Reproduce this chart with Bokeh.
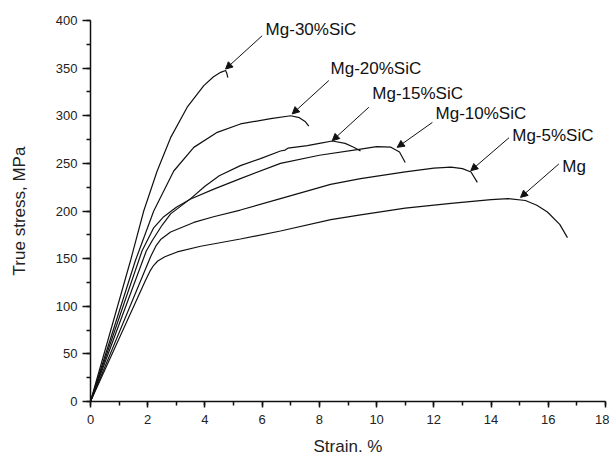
from bokeh.plotting import figure
from bokeh.models import Range1d, SingleIntervalTicker, Arrow, NormalHead, ColumnDataSource
from bokeh.core.properties import value
from bokeh.embed import file_html
from bokeh.resources import INLINE

FONT = "Liberation Sans"
INK = "#111111"

# ---- data (strain %, true stress MPa) ----
mg_x = [0, 1.92, 2.1, 2.21, 2.35, 2.6, 3.03, 3.85, 5.24, 6.64, 8.4, 9.44, 11.0, 12.6, 14.0, 14.6, 15.2, 15.6, 15.97, 16.4, 16.67]
mg_y = [0, 127, 138, 143, 147.5, 152, 157, 163, 170.6, 179, 191, 196, 203, 208, 212, 213, 211, 206, 199, 186, 172]

mg5_x = [0, 2.1, 2.3, 2.45, 2.8, 3.61, 4.3, 5.24, 6.64, 8.39, 9.44, 11.0, 12.0, 12.6, 13.0, 13.3, 13.52]
mg5_y = [0, 152, 164, 170, 178, 188, 194, 201, 213, 228, 234, 241, 245, 246, 244.5, 241, 230]

mg10_x = [0, 1.8, 2.2, 2.56, 3.0, 3.5, 4.31, 5.24, 6.64, 8.0, 9.44, 10.0, 10.5, 10.8, 11.0]
mg10_y = [0, 158, 182, 194, 204, 212.6, 223, 234, 250, 258.5, 265, 267.5, 267, 262, 251]

mg15_x = [0, 1.95, 2.16, 2.5, 2.8, 3.5, 4.0, 4.5, 5.24, 5.94, 6.64, 6.8, 6.9, 7.58, 8.0, 8.45, 8.9, 9.2, 9.44]
mg15_y = [0, 158, 169, 185, 197, 213, 226, 237, 247.6, 255, 263, 264, 266, 268.6, 271, 273.5, 271, 267, 263]

mg20_x = [0, 1.57, 2.21, 2.91, 3.61, 4.43, 5.24, 6.3, 7.0, 7.3, 7.5, 7.63]
mg20_y = [0, 148, 200, 242, 266.8, 282.6, 291.4, 297, 300, 298, 294, 289]

mg30_x = [0, 1.4, 1.86, 2.33, 2.8, 3.38, 3.96, 4.3, 4.55, 4.72, 4.76, 4.8]
mg30_y = [0, 148, 200, 242, 277, 309, 331.6, 341, 345.6, 347.5, 345, 340]

series = [(mg_x, mg_y), (mg5_x, mg5_y), (mg10_x, mg10_y),
          (mg15_x, mg15_y), (mg20_x, mg20_y), (mg30_x, mg30_y)]

# ---- annotation labels and arrows ----
label_text = ["Mg-30%SiC", "Mg-20%SiC", "Mg-15%SiC", "Mg-10%SiC", "Mg-5%SiC", "Mg"]
label_x = [6.12, 8.39, 9.85, 12.06, 14.74, 16.49]
label_y = [391, 349.5, 323, 302, 279, 246.5]
arrow_x0 = [6.0, 8.33, 9.73, 11.95, 14.63, 16.37]
arrow_y0 = [384, 337, 309, 293, 277, 249.4]
arrow_x1 = [4.72, 7.05, 8.45, 10.72, 13.29, 15.03]
arrow_y1 = [349, 301.9, 273.8, 266.8, 242.3, 214.3]

p = figure(width=609, height=459,
           x_range=Range1d(0, 18), y_range=Range1d(0, 400),
           output_backend="svg", toolbar_location=None,
           min_border_left=90, min_border_top=20,
           min_border_right=4, min_border_bottom=58)
p.outline_line_color = None
p.grid.visible = False
p.background_fill_color = "white"
p.border_fill_color = "white"

for xs, ys in series:
    p.line(xs, ys, line_color=INK, line_width=1.2)

src = ColumnDataSource(dict(x=label_x, y=label_y, t=label_text))
p.text(x="x", y="y", text="t", source=src, text_font=value(FONT),
       text_font_size="17px", text_baseline="middle", text_align="left",
       text_color=INK)

for i in range(len(label_text)):
    p.add_layout(Arrow(x_start=arrow_x0[i], y_start=arrow_y0[i],
                       x_end=arrow_x1[i], y_end=arrow_y1[i],
                       line_color=INK, line_width=1,
                       end=NormalHead(size=7, fill_color=INK, line_color=INK, line_width=1)))

xa = p.xaxis[0]
xa.ticker = SingleIntervalTicker(interval=2, num_minor_ticks=2)
xa.axis_label = "Strain. %"
xa.major_tick_out = 6
xa.major_tick_in = 0
xa.minor_tick_out = 4
xa.minor_tick_in = 0
xa.major_label_standoff = 7
xa.axis_label_standoff = 10

ya = p.yaxis[0]
ya.ticker = SingleIntervalTicker(interval=50, num_minor_ticks=2)
ya.axis_label = "True stress, MPa"
ya.major_tick_out = 8
ya.major_tick_in = 0
ya.minor_tick_out = 4
ya.minor_tick_in = 0
ya.major_label_standoff = 5
ya.axis_label_standoff = 24

for ax in (xa, ya):
    ax.axis_line_color = INK
    ax.axis_line_width = 1.5
    ax.major_tick_line_color = INK
    ax.major_tick_line_width = 1.5
    ax.minor_tick_line_color = INK
    ax.minor_tick_line_width = 1.5
    ax.major_label_text_font = FONT
    ax.major_label_text_font_size = "13px"
    ax.major_label_text_color = "#222222"
    ax.axis_label_text_font = FONT
    ax.axis_label_text_font_size = "17px"
    ax.axis_label_text_font_style = "normal"
    ax.axis_label_text_color = "#222222"

open("out.html", "w").write(file_html(p, INLINE))
